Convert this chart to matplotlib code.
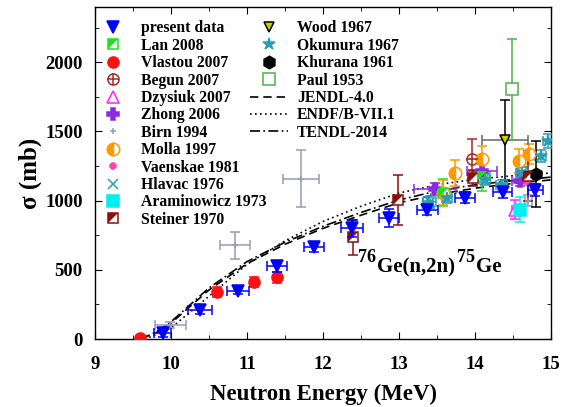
import numpy as np
import matplotlib.pyplot as plt
from matplotlib.lines import Line2D
from matplotlib.ticker import MultipleLocator

# ---- data (E in MeV, sigma in mb) ----
pres_E = [9.89, 10.38, 10.88, 11.39, 11.88, 12.38, 12.87, 13.37, 13.87, 14.36, 14.79]
pres_s = [43, 209, 350, 525, 662, 800, 875, 935, 1020, 1060, 1075]
pres_ds = [25, 25, 25, 40, 30, 60, 65, 40, 40, 40, 45]
pres_dE = [0.11, 0.16, 0.15, 0.13, 0.13, 0.15, 0.13, 0.14, 0.13, 0.13, 0.10]

lan_E = [13.57, 14.09]
lan_s = [1058, 1180]
lan_ds = [100, 110]
lan_dE = [0.10, 0.10]

vla_E = [9.59, 10.60, 11.09, 11.39]
vla_s = [5, 338, 410, 446]
vla_ds = [10, 35, 35, 40]

beg_E = [13.96]
beg_s = [1302]
beg_ds = [140]

dzy_E = [14.53]
dzy_s = [935]
dzy_ds = [70]

zho_E = [13.47, 14.09, 14.59]
zho_s = [1086, 1216, 1144]
zho_ds = [40, 50, 40]
zho_dE = [0.28, 0.20, 0.10]

bir_E = [9.99, 10.84, 11.71, 14.70]
bir_s = [100, 676, 1158, 1000]
bir_ds = [20, 95, 205, 40]
bir_dE = [0.20, 0.20, 0.24, 0.05]

mol_E = [13.58, 13.74, 14.09, 14.57, 14.71]
mol_s = [1058, 1200, 1302, 1288, 1338]
mol_ds = [90, 95, 90, 85, 70]

vae_E = [14.68]
vae_s = [1140]
vae_ds = [30]

hla_E = [13.40, 14.62]
hla_s = [990, 1201]
hla_ds = [40, 40]
hla_dE = [0.08, 0.08]

ara_E = [14.59]
ara_s = [935]
ara_ds = [90]

ste_E = [12.39, 12.99, 13.97, 14.70]
ste_s = [735, 1007, 1165, 1180]
ste_ds = [125, 180, 60, 180]

woo_E = [14.39]
woo_s = [1440]
woo_ds = [290]
woo_dE = [0.30]

oku_E = [13.38, 13.63, 14.13, 14.35, 14.62, 14.86, 14.96]
oku_s = [985, 1020, 1150, 1110, 1200, 1324, 1432]
oku_ds = [40, 40, 40, 40, 40, 45, 50]
oku_dE = [0.07, 0.07, 0.07, 0.07, 0.07, 0.07, 0.07]

khu_E = [14.80]
khu_s = [1194]
khu_ds = [240]

pau_E = [14.49]
pau_s = [1806]
pau_ds = [365]

# evaluated cross sections
jendl_E = [9.60, 9.80, 10.0, 10.5, 11.0, 11.5, 12.0, 12.5, 13.0, 13.5, 14.0, 14.5, 15.0]
jendl_s = [0, 45, 115, 355, 545, 685, 800, 895, 985, 1045, 1090, 1125, 1150]
endf_E = [9.65, 9.80, 10.0, 10.5, 11.0, 11.5, 12.0, 12.5, 13.0, 13.5, 14.0, 14.5, 15.0]
endf_s = [0, 30, 80, 310, 540, 710, 850, 960, 1055, 1115, 1155, 1180, 1200]
tendl_E = [9.60, 9.80, 10.0, 10.5, 11.0, 11.5, 12.0, 12.5, 13.0, 13.5, 14.0, 14.5, 15.0]
tendl_s = [0, 50, 125, 370, 560, 700, 815, 915, 1005, 1070, 1115, 1145, 1170]

plt.rcParams['font.family'] = 'Liberation Serif'
plt.rcParams['font.weight'] = 'bold'
plt.rcParams['axes.labelweight'] = 'bold'

fig = plt.figure(figsize=(5.76, 4.07), dpi=100)
ax = fig.add_axes([0.165, 0.167, 0.792, 0.816])

# upper-left filled triangle, used for the half-filled squares
UL = [(-1, -1), (-1, 1), (1, 1)]


def eb(E, s, ds, dE, color, marker, ms, mfc, mec=None, ecolor=None, z=3, **kw):
    ax.errorbar(E, s, yerr=ds, xerr=dE, fmt=marker, ms=ms, mfc=mfc,
                mec=mec or color, ecolor=ecolor or color, elinewidth=1.1,
                capsize=3.5, capthick=1.1, mew=1.1, zorder=z, **kw)


ax.plot(jendl_E, jendl_s, color='black', ls=(0, (5, 3)), lw=1.2, zorder=2)
ax.plot(endf_E, endf_s, color='black', ls=(0, (1, 2)), lw=1.2, zorder=2)
ax.plot(tendl_E, tendl_s, color='black', ls=(0, (6, 2, 1, 2)), lw=1.2, zorder=2)

c_lan = '#22dd22'
c_ste = '#8b1010'
c_oku = '#2a9db5'
eb(bir_E, bir_s, bir_ds, bir_dE, '#9999b8', '+', 5, '#9999b8')
eb(lan_E, lan_s, lan_ds, lan_dE, c_lan, 's', 7, 'white')
ax.plot(lan_E, lan_s, ls='none', marker=UL, ms=7, color=c_lan, mew=0, zorder=4)
eb(vla_E, vla_s, vla_ds, None, '#ff1111', 'o', 8, '#ff1111')
eb(beg_E, beg_s, beg_ds, None, '#a52a2a', 'o', 8, 'white')
ax.plot(beg_E, beg_s, ls='none', marker='+', ms=8, color='#a52a2a', mew=1.2, zorder=4)
eb(dzy_E, dzy_s, dzy_ds, [0.04], '#ff22ff', '^', 8, 'white')
eb(zho_E, zho_s, zho_ds, zho_dE, '#8a2be2', 'P', 8, '#8a2be2')
eb(mol_E, mol_s, mol_ds, None, '#ff9900', 'o', 9, '#ff9900', fillstyle='left',
   markerfacecoloralt='white')
eb(vae_E, vae_s, vae_ds, None, '#ff44aa', '8', 5, '#ff44aa')
eb(hla_E, hla_s, hla_ds, hla_dE, c_oku, 'x', 7, c_oku)
eb(ara_E, ara_s, ara_ds, None, '#00f0f0', 's', 8, '#00f0f0')
eb(ste_E, ste_s, ste_ds, None, c_ste, 's', 7, 'white')
ax.plot(ste_E, ste_s, ls='none', marker=UL, ms=7, color=c_ste, mew=0, zorder=4)
# Wood: grey energy bar, black cross-section bar
eb(woo_E, woo_s, None, woo_dE, '#666666', 'none', 7, 'none')
eb(woo_E, woo_s, woo_ds, None, '#cccc00', 'v', 7, '#cccc00', mec='black', ecolor='black')
eb(oku_E, oku_s, oku_ds, oku_dE, c_oku, '*', 9, c_oku)
eb(khu_E, khu_s, khu_ds, None, 'black', 'h', 9, 'black')
eb(pau_E, pau_s, pau_ds, None, '#4cb34c', 's', 8, 'white')
eb(pres_E, pres_s, pres_ds, pres_dE, '#0000ff', 'v', 9, '#0000ff', z=5)

ax.set_xlim(9, 15)
ax.set_ylim(0, 2400)
ax.xaxis.set_major_locator(MultipleLocator(1))
ax.xaxis.set_minor_locator(MultipleLocator(0.5))
ax.yaxis.set_major_locator(MultipleLocator(500))
ax.yaxis.set_minor_locator(MultipleLocator(250))
ax.tick_params(which='both', direction='in', top=True, right=True, labelsize=13.5)
ax.tick_params(axis='x', which='both', pad=12)
ax.tick_params(axis='y', which='both', pad=9)
ax.tick_params(which='major', length=5)
ax.tick_params(which='minor', length=3)
for sp in ax.spines.values():
    sp.set_linewidth(1.0)
ax.set_xlabel('Neutron Energy (MeV)', fontsize=16.5, labelpad=8)
ax.set_ylabel('σ (mb)', fontsize=18, labelpad=2)

# reaction label with full-size superscripts
t1 = ax.text(12.46, 554, '76', fontsize=13, fontweight='bold')
t2 = ax.annotate('Ge(n,2n)', xy=(1, 0), xycoords=t1, xytext=(1, -8),
                 textcoords='offset points', fontsize=15, fontweight='bold',
                 va='bottom')
t3 = ax.annotate('75', xy=(1, 0), xycoords=t2, xytext=(1, 8),
                 textcoords='offset points', fontsize=13, fontweight='bold',
                 va='bottom')
ax.annotate('Ge', xy=(1, 0), xycoords=t3, xytext=(1, -8),
            textcoords='offset points', fontsize=15, fontweight='bold',
            va='bottom')


def mk(marker, color, ms, mfc=None, mec=None, mew=1.1, **kw):
    return Line2D([], [], ls='none', marker=marker, color=color, ms=ms,
                  mfc=mfc or color, mec=mec or color, mew=mew, **kw)


h1 = [
    mk('v', '#0000ff', 9),
    (mk('s', c_lan, 7, mfc='white'), mk(UL, c_lan, 7, mew=0)),
    mk('o', '#ff1111', 8),
    (mk('o', '#a52a2a', 8, mfc='white'), mk('+', '#a52a2a', 8)),
    mk('^', '#ff22ff', 8, mfc='white'),
    mk('P', '#8a2be2', 8),
    mk('+', '#9999b8', 5),
    mk('o', '#ff9900', 9, fillstyle='left', markerfacecoloralt='white'),
    mk('8', '#ff44aa', 5),
    mk('x', c_oku, 7),
    mk('s', '#00f0f0', 8),
    (mk('s', c_ste, 7, mfc='white'), mk(UL, c_ste, 7, mew=0)),
]
l1 = ['present data', 'Lan 2008', 'Vlastou 2007', 'Begun 2007', 'Dzysiuk 2007',
      'Zhong 2006', 'Birn 1994', 'Molla 1997', 'Vaenskae 1981', 'Hlavac 1976',
      'Araminowicz 1973', 'Steiner 1970']
h2 = [
    mk('v', '#cccc00', 7, mec='black'),
    mk('*', c_oku, 9),
    mk('h', 'black', 9),
    mk('s', '#4cb34c', 8, mfc='white'),
    Line2D([], [], color='black', ls=(0, (5, 3)), lw=1.2),
    Line2D([], [], color='black', ls=(0, (1, 2)), lw=1.2),
    Line2D([], [], color='black', ls=(0, (6, 2, 1, 2)), lw=1.2),
]
l2 = ['Wood 1967', 'Okumura 1967', 'Khurana 1961', 'Paul 1953',
      'JENDL-4.0', 'ENDF/B-VII.1', 'TENDL-2014']

kw = dict(loc='upper left', frameon=False, fontsize=11.3, borderpad=0,
          handlelength=2.45, handletextpad=0.55, labelspacing=0.09,
          borderaxespad=0, bbox_transform=fig.transFigure)
leg1 = ax.legend(h1, l1, bbox_to_anchor=(0.163, 0.950), **kw)
ax.add_artist(leg1)
ax.legend(h2, l2, bbox_to_anchor=(0.434, 0.950), **kw)

fig.savefig('out.png', dpi=100)
